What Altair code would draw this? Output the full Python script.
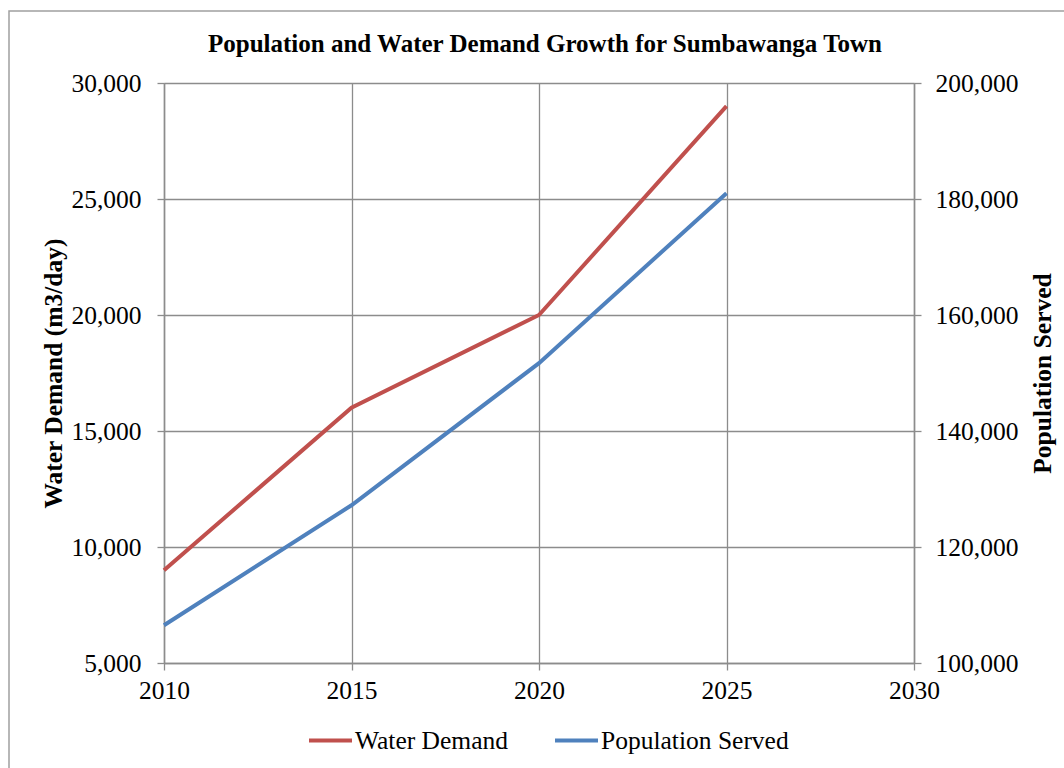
import altair as alt
import pandas as pd

years = [2010, 2015, 2020, 2025]
water_demand = [9000, 16000, 20000, 29000]
population = [106500, 127200, 151700, 181000]
series_names = ["Water Demand", "Population Served"]
series_colors = ["#C0504D", "#4F81BD"]

df = pd.DataFrame({"Year": years, "Water": water_demand, "Pop": population})

FONT = "Liberation Serif"
GRID = "#8c8c8c"
FS = 25.5

color_scale = alt.Scale(domain=series_names, range=series_colors)

x_enc = alt.X(
    "Year:Q",
    scale=alt.Scale(domain=[2010, 2030], nice=False),
    axis=alt.Axis(values=[2010, 2015, 2020, 2025, 2030], format="d", title=None,
                  grid=True, gridColor=GRID, gridWidth=1.3, labelFlush=False,
                  domainColor=GRID, domainWidth=1.5, tickColor=GRID, tickSize=7,
                  tickWidth=1.3, labelPadding=8, labelFontSize=FS, labelFont=FONT,
                  labelColor="black"),
)

water = alt.Chart(df).transform_calculate(
    series="'Water Demand'"
).mark_line(strokeWidth=4, clip=False).encode(
    x=x_enc,
    y=alt.Y(
        "Water:Q",
        scale=alt.Scale(domain=[5000, 30000], nice=False),
        axis=alt.Axis(values=[5000, 10000, 15000, 20000, 25000, 30000], format=",.0f",
                      title="Water Demand (m3/day)", titleFont=FONT, titleFontSize=FS,
                      titleFontWeight="bold", titleColor="black",
                      titleAngle=270, titleX=-111, titleY=290, titleBaseline="middle",
                      titleAlign="center",
                      grid=True, gridColor=GRID, gridWidth=1.3, labelFlush=False,
                      domainColor=GRID, domainWidth=1.5, tickColor=GRID, tickSize=7,
                      tickWidth=1.3, labelPadding=16, labelFontSize=FS, labelFont=FONT,
                      labelColor="black", orient="left"),
    ),
    color=alt.Color("series:N", scale=color_scale, legend=alt.Legend(
        title=None, orient="none", legendX=143, legendY=634, direction="horizontal",
        symbolType="stroke", symbolSize=1849, symbolStrokeWidth=4, labelFont=FONT,
        labelFontSize=FS, labelColor="black", labelOffset=1, columnPadding=39,
        labelLimit=400,
    )),
)

pop = alt.Chart(df).transform_calculate(
    series="'Population Served'"
).mark_line(strokeWidth=4, clip=False).encode(
    x=alt.X("Year:Q", scale=alt.Scale(domain=[2010, 2030], nice=False)),
    y=alt.Y(
        "Pop:Q",
        scale=alt.Scale(domain=[100000, 200000], nice=False),
        axis=alt.Axis(values=[100000, 120000, 140000, 160000, 180000, 200000], format=",.0f",
                      title="Population Served", titleFont=FONT, titleFontSize=FS,
                      titleFontWeight="bold", titleColor="black",
                      titleAngle=270, titleX=128, titleY=290, titleBaseline="middle",
                      titleAlign="center",
                      grid=False, domainColor=GRID, domainWidth=1.5, tickColor=GRID,
                      labelFlush=False,
                      tickSize=7, tickWidth=1.3, labelPadding=14, labelFontSize=FS,
                      labelFont=FONT, labelColor="black", orient="right"),
    ),
    color=alt.Color("series:N", scale=color_scale),
)

frame = alt.Chart(pd.DataFrame({"a": [0]})).mark_rect(
    fill=None, stroke="#a0a0a0", strokeWidth=1.5, clip=False
).encode(
    x=alt.value(-155), x2=alt.value(1000), y=alt.value(-72), y2=alt.value(800)
)

chart = alt.layer(frame, water, pop).resolve_scale(y="independent").properties(
    width=750,
    height=580,
    padding={"left": 164, "top": 83, "right": 150, "bottom": 105},
    autosize=alt.AutoSizeParams(type="none"),
    title=alt.TitleParams(
        "Population and Water Demand Growth for Sumbawanga Town",
        font=FONT, fontSize=25, fontWeight="bold", color="black", anchor="middle",
        frame="group", offset=0, dy=47, dx=6,
    ),
).configure_view(stroke=None).configure(background="white")

chart.save("out.html", embed_options={"renderer": "svg", "actions": False})
